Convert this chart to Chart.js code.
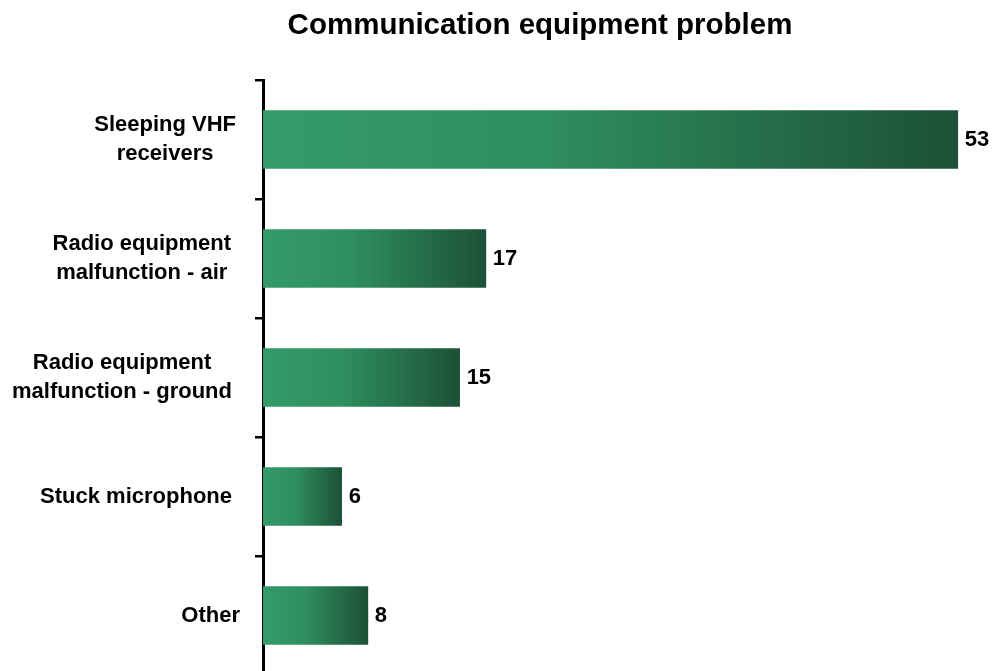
<!DOCTYPE html>
<html>
<head>
<meta charset="utf-8">
<script src="https://cdn.jsdelivr.net/npm/chart.js@4"></script>
<style>
  html, body { margin: 0; padding: 0; background: #fff; overflow: hidden; }
  #wrap { width: 994px; height: 676px; position: relative; }
</style>
</head>
<body>
<div id="wrap"><canvas id="commChart"></canvas></div>
<script>
const categories = [
  ["Sleeping VHF", "receivers"],
  ["Radio equipment", "malfunction - air"],
  ["Radio equipment", "malfunction - ground"],
  ["Stuck microphone"],
  ["Other"]
];
const counts = [53, 17, 15, 6, 8];
const chartTitle = "Communication equipment problem";

const FONT = "'Liberation Sans', Arial, sans-serif";
// right edge of each label block, as laid out in the original
const labelRight = [236, 231, 232, 232, 240];

function barGradient(ctx) {
  const chart = ctx.chart;
  if (!chart.chartArea || ctx.dataIndex === undefined) return "#339966";
  const x = chart.scales.x;
  const x0 = x.getPixelForValue(0);
  const x1 = x.getPixelForValue(counts[ctx.dataIndex]);
  const g = chart.ctx.createLinearGradient(x0, 0, x1, 0);
  g.addColorStop(0, "#349b69");
  g.addColorStop(0.4, "#2f8f5e");
  g.addColorStop(1, "#1c5137");
  return g;
}

const textPlugin = {
  id: "textPlugin",
  afterDraw(chart) {
    const c = chart.ctx;
    const y = chart.scales.y;
    c.save();
    c.fillStyle = "#000";
    c.textBaseline = "middle";
    c.textAlign = "center";
    c.font = "bold 29.5px " + FONT;
    c.fillText(chartTitle, 540, 26);

    c.font = "bold 22px " + FONT;
    const lineH = 29;
    categories.forEach((lines, i) => {
      const cy = y.getPixelForValue(i);
      const w = Math.max(...lines.map(l => c.measureText(l).width));
      const cx = labelRight[i] - w / 2;
      lines.forEach((l, k) => {
        c.fillText(l, cx, cy + (k - (lines.length - 1) / 2) * lineH);
      });
    });

    const x = chart.scales.x;
    c.textAlign = "left";
    counts.forEach((v, i) => {
      c.fillText(String(v), x.getPixelForValue(v) + 7, y.getPixelForValue(i));
    });
    c.restore();
  }
};

new Chart(document.getElementById("commChart"), {
  type: "bar",
  data: {
    labels: categories,
    datasets: [{
      data: counts,
      backgroundColor: barGradient,
      borderWidth: 0,
      barThickness: 58
    }]
  },
  options: {
    indexAxis: "y",
    responsive: true,
    maintainAspectRatio: false,
    animation: false,
    layout: { padding: { top: 80, right: 10, bottom: 1, left: 0 } },
    plugins: {
      legend: { display: false },
      title: { display: false },
      tooltip: { enabled: false }
    },
    scales: {
      x: {
        display: false,
        min: 0,
        max: 55
      },
      y: {
        afterFit(scale) { scale.width = 263; },
        ticks: { display: false },
        grid: {
          offset: true,
          drawOnChartArea: false,
          drawTicks: true,
          tickLength: 8,
          color: "#000",
          lineWidth: 2.5
        },
        border: { display: true, color: "#000", width: 3 }
      }
    }
  },
  plugins: [textPlugin]
});
</script>
</body>
</html>
